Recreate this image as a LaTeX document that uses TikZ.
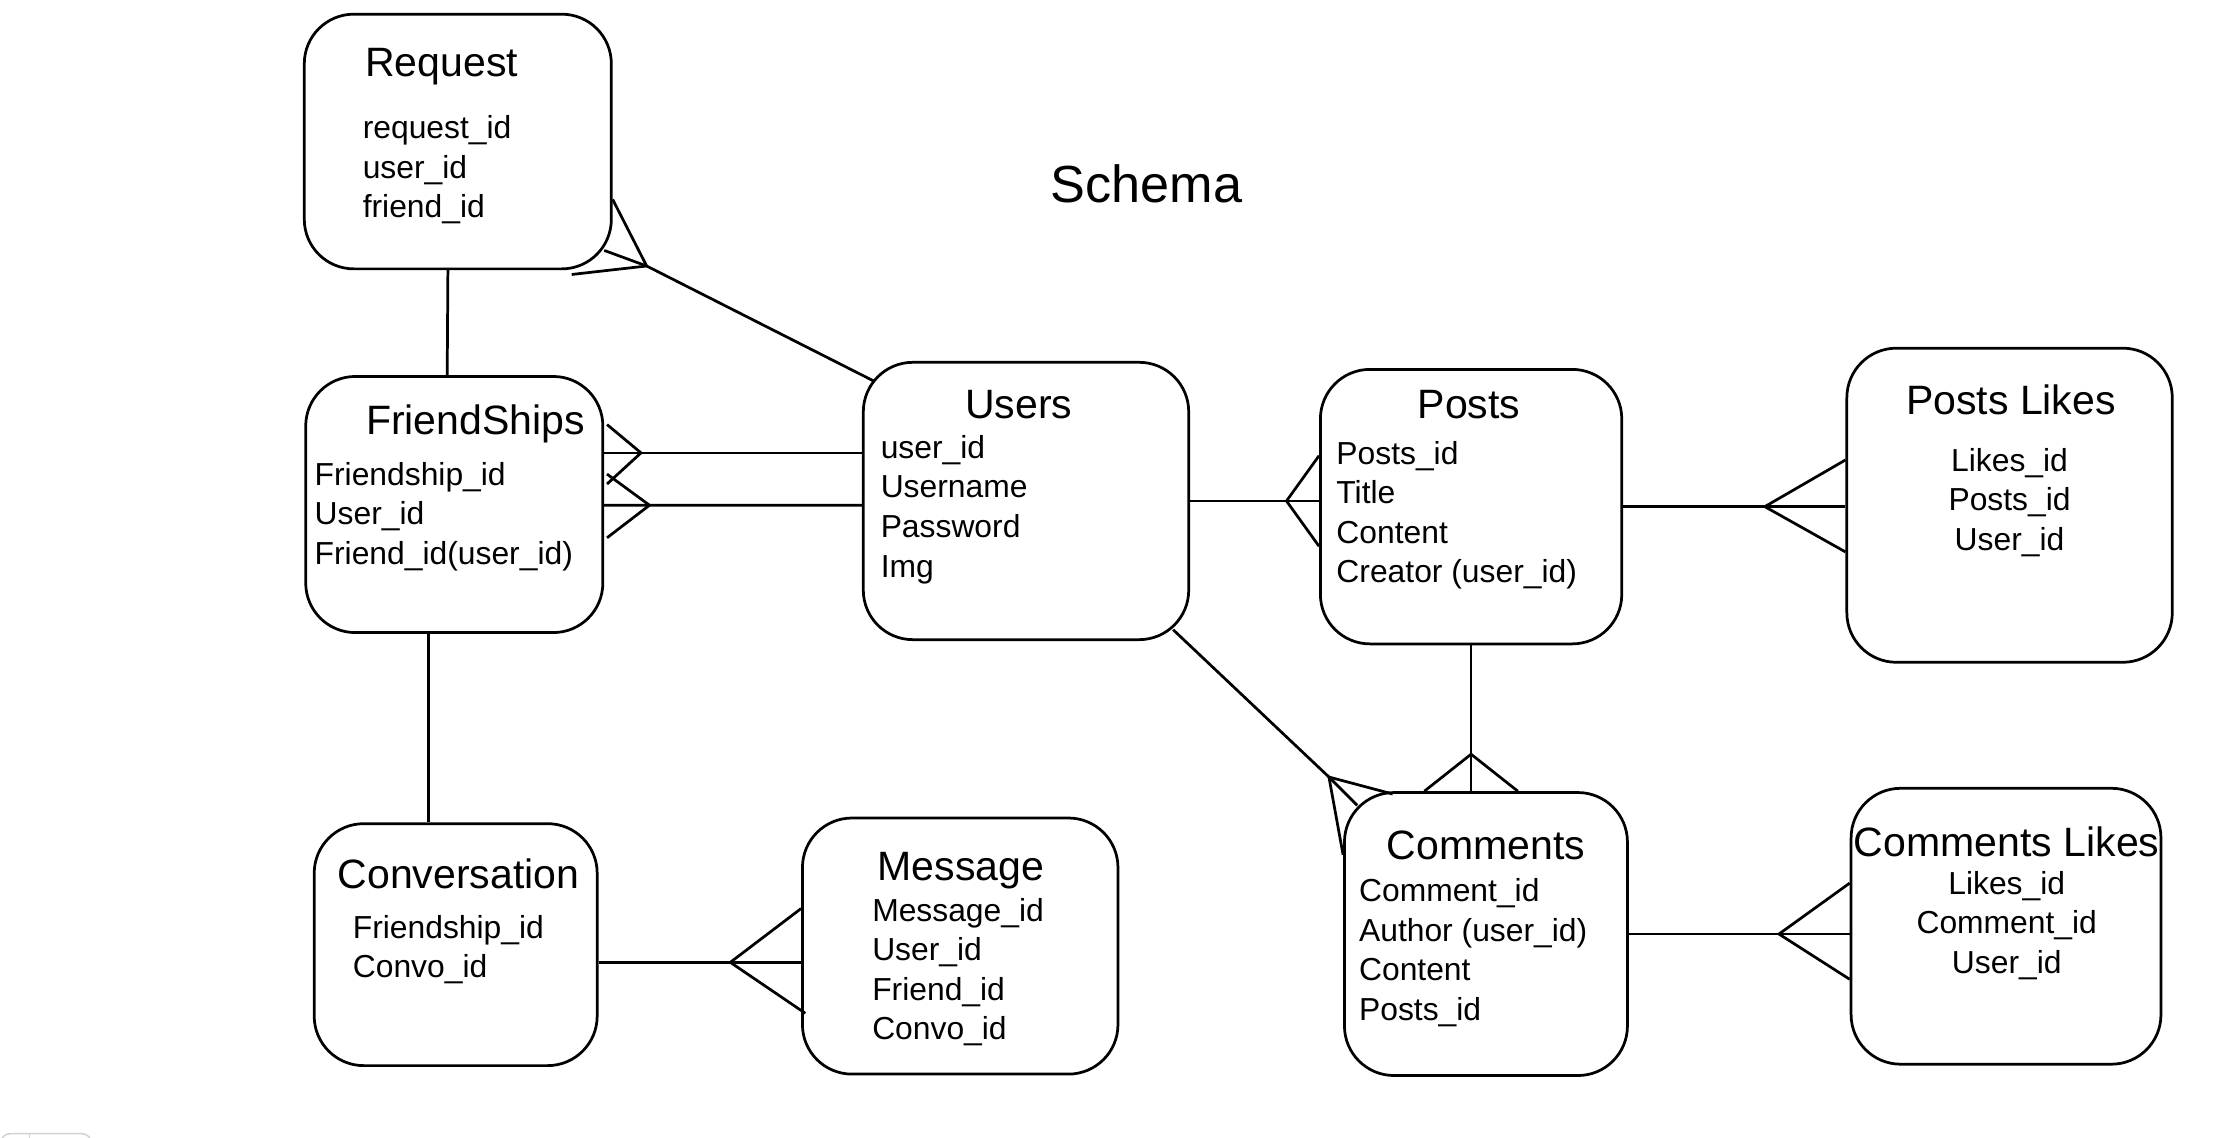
\documentclass[tikz,border=0pt]{standalone}
\usepackage{fontspec}
\setmainfont{Liberation Sans}
\usepackage{tikz}
\usetikzlibrary{calc}

\begin{document}
\begin{tikzpicture}[x = 0.02cm, y = -0.02cm,
        entitybox/.style = {draw, rounded corners = 0.7cm, line width = 1.1pt, inner sep = 0pt},
        tabletitle/.style = {anchor = base, font = \fontsize{16.5}{20}\selectfont},
        fields/.style = {align = left, anchor = west, inner sep = 0pt, font = \fontsize{12.8}{15.9}\selectfont},
        link/.style = {draw, line width = 1.1pt}]
        \useasboundingbox (0, 0) rectangle (1568, 804.1);

        \node [anchor = base, font = \fontsize{21}{25}\selectfont] (schema) at (810, 143) {Schema};

        % tables
        \node [entitybox, minimum width = 4.34cm, minimum height = 3.6cm] (request) at (323.5, 100) {};
        \node [entitybox, minimum width = 4.2cm, minimum height = 3.62cm] (friendships) at (321, 356.5) {};
        \node [entitybox, minimum width = 4.6cm, minimum height = 3.92cm] (users) at (725, 354) {};
        \node [entitybox, minimum width = 4.26cm, minimum height = 3.88cm] (posts) at (1039.5, 358) {};
        \node [entitybox, minimum width = 4.6cm, minimum height = 4.44cm] (postslikes) at (1420, 357) {};
        \node [entitybox, minimum width = 4cm, minimum height = 3.42cm] (conversation) at (322, 667.5) {};
        \node [entitybox, minimum width = 4.46cm, minimum height = 3.62cm] (message) at (678.5, 668.5) {};
        \node [entitybox, minimum width = 4cm, minimum height = 4cm] (comments) at (1050, 660) {};
        \node [entitybox, minimum width = 4.38cm, minimum height = 3.9cm] (commentslikes) at (1417.5, 654.5) {};

        \node [tabletitle] (requesttitle) at (312, 54) {Request};
        \node [tabletitle] (friendshipstitle) at (336, 307) {FriendShips};
        \node [tabletitle] (userstitle) at (720, 296) {Users};
        \node [tabletitle] (poststitle) at (1038, 296) {Posts};
        \node [tabletitle] (postslikestitle) at (1421, 293) {Posts Likes};
        \node [tabletitle] (conversationtitle) at (324, 628) {Conversation};
        \node [tabletitle] (messagetitle) at (679, 622) {Message};
        \node [tabletitle] (commentstitle) at (1050, 607) {Comments};
        \node [tabletitle] (commentslikestitle) at (1418, 605) {Comments Likes};

        \node [fields] (requestfields) at (256, 120) {request\_id\\user\_id\\friend\_id};
        \node [fields] (friendshipsfields) at (222, 365) {Friendship\_id\\User\_id\\Friend\_id(user\_id)};
        \node [fields] (usersfields) at (622, 360) {user\_id\\Username\\Password\\Img};
        \node [fields] (postsfields) at (944, 364) {Posts\_id\\Title\\Content\\Creator (user\_id)};
        \node [fields, anchor = center, align = center] (postslikesfields) at (1420, 355) {Likes\_id\\Posts\_id\\User\_id};
        \node [fields] (conversationfields) at (249, 671) {Friendship\_id\\Convo\_id};
        \node [fields] (messagefields) at (616, 687) {Message\_id\\User\_id\\Friend\_id\\Convo\_id};
        \node [fields] (commentsfields) at (960, 673) {Comment\_id\\Author (user\_id)\\Content\\Posts\_id};
        \node [fields, anchor = center, align = center] (commentslikesfields) at (1418, 654) {Likes\_id\\Comment\_id\\User\_id};

        % crow's feet
        \coordinate (reqfoot) at ($(request.south east)+(24, -3)$);
        \coordinate (fsfootA) at ($(friendships.east)+(26, -36.5)$);
        \coordinate (fsfootB) at ($(friendships.east)+(32, 0.5)$);
        \coordinate (postsfoot) at ($(posts.west)+(-23, -4)$);
        \coordinate (plfoot) at ($(postslikes.west)+(-57, 1)$);
        \coordinate (cmfoot) at ($(comments.north west)+(-10, -10)$);
        \coordinate (pcfoot) at ($(posts.south)+(0, 77)$);
        \coordinate (clfoot) at ($(commentslikes.west)+(-50, 5.5)$);
        \coordinate (msgfoot) at ($(message.west)+(-50, 11.5)$);

        \path [link]
            ($(request.south)+(-7, 0)$) edge ($(friendships.north)+(-5, 0)$)
            ($(friendships.south)+(-18, 0)$) edge ($(conversation.north)+(-19, 0)$)
            ($(users.north west)+(8, 14)$) edge (reqfoot)
            (reqfoot) edge ($(request.south east)+(0, -50)$)
            (reqfoot) edge ($(request.south east)+(-6, -14)$)
            (reqfoot) edge ($(request.south east)+(-29, 3)$)
            ($(users.west)+(0, -34)$) edge ($(friendships.east)+(0, -36.5)$)
            ($(users.west)+(0, 3)$) edge ($(friendships.east)+(0, 0.5)$)
            (fsfootA) edge ($(friendships.east)+(2, -56.5)$)
            (fsfootA) edge ($(friendships.east)+(2, -14.5)$)
            (fsfootB) edge ($(friendships.east)+(2, -21.5)$)
            (fsfootB) edge ($(friendships.east)+(2, 23.5)$)
            (users.east) edge (posts.west |- users.east)
            (postsfoot) edge ($(posts.west)+(0, -36)$)
            (postsfoot) edge ($(posts.west)+(0, 28)$)
            (posts.east) edge (postslikes.west |- posts.east)
            (plfoot) edge ($(postslikes.west)+(0, -32)$)
            (plfoot) edge ($(postslikes.west)+(0, 33)$)
            ($(users.south east)+(-12, -8)$) edge (cmfoot)
            (cmfoot) edge ($(comments.north west)+(35, 2)$)
            (cmfoot) edge ($(comments.north west)+(10, 10)$)
            (cmfoot) edge ($(comments.north west)+(0, 45)$)
            (posts.south) edge (posts.south |- comments.north)
            (pcfoot) edge ($(posts.south |- comments.north)+(-33, 0)$)
            (pcfoot) edge ($(posts.south |- comments.north)+(33, 0)$)
            (comments.east) edge (commentslikes.west |- comments.east)
            (clfoot) edge ($(commentslikes.west)+(0, -30.5)$)
            (clfoot) edge ($(commentslikes.west)+(0, 37.5)$)
            ($(conversation.east)+(0, 12.5)$) edge ($(message.west)+(0, 11.5)$)
            (msgfoot) edge ($(message.west)+(0, -26.5)$)
            (msgfoot) edge ($(message.west)+(3, 47.5)$);

        \draw [gray!35, line width = 0.6pt, rounded corners = 0.15cm] (0, 808) -- (0, 801) -- (65, 801) -- (65, 808);
        \draw [gray!35, line width = 0.6pt] (21, 801) -- (21, 808);
\end{tikzpicture}
\end{document}
